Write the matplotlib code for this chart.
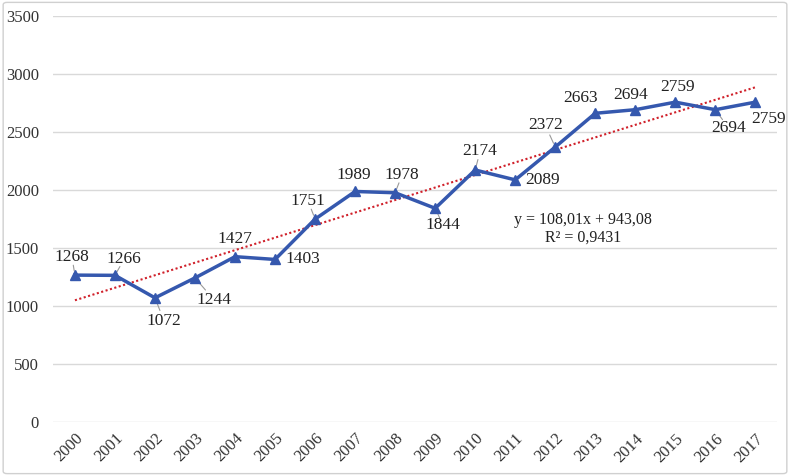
import matplotlib.pyplot as plt
import matplotlib.patches as patches

years = ['2000', '2001', '2002', '2003', '2004', '2005', '2006', '2007', '2008',
         '2009', '2010', '2011', '2012', '2013', '2014', '2015', '2016', '2017']
values = [1268, 1266, 1072, 1244, 1427, 1403, 1751, 1989, 1978,
          1844, 2174, 2089, 2372, 2663, 2694, 2759, 2694, 2759]
trend_slope = 108.01
trend_icept = 943.08
r_squared = '0,9431'

# label offsets in pixels (dx, dy) relative to each point
label_off = [(-3, 18), (9, 16), (9, -23), (19, -22), (0, 18), (28, 0),
             (-7, 18), (-1, 16), (7, 18), (8, -17), (5, 19), (27, 0),
             (-10, 22), (-15, 15), (-5, 15), (2, 15), (13, -18), (13, -17)]
leader = [True, True, True, True, False, False, True, False, True,
          True, True, False, True, False, False, False, True, False]

plt.rcParams['font.family'] = ['Liberation Serif', 'DejaVu Serif']

fig = plt.figure(figsize=(7.9, 4.76), dpi=100)
ax = fig.add_axes([0.067, 0.113, 0.917, 0.853])

x = list(range(len(years)))
ax.plot(x, values, color='#3558AE', lw=2.5, marker='^', markersize=7.5, zorder=3)

trend = [trend_slope * (i + 1) + trend_icept for i in x]
ax.plot(x, trend, color='#D0202A', lw=1.5, ls=(0, (1, 1.2)), zorder=2)

for i, v in enumerate(values):
    dx, dy = label_off[i]
    ax.annotate(str(v), (i, v), xytext=(dx, dy), textcoords='offset pixels',
                ha='center', va='center', fontsize=12.5, color='#222222', zorder=4)
    if leader[i]:
        # short grey leader line from point towards label
        ax.annotate('', (i, v), xytext=(dx * 0.55, dy * 0.55), textcoords='offset pixels',
                    arrowprops=dict(arrowstyle='-', color='#999999', lw=0.8,
                                    shrinkA=0, shrinkB=3), zorder=2)

ax.text(12.7, 1745, f'y = {trend_slope:.2f}x + {trend_icept:.2f}'.replace('.', ','),
        ha='center', va='center', fontsize=11.5, color='#222222')
ax.text(12.7, 1590, f'R² = {r_squared}', ha='center', va='center', fontsize=11.5,
        color='#222222')

ax.set_xlim(-0.55, 17.55)
ax.set_ylim(0, 3500)
ax.set_yticks(range(0, 3501, 500))
ax.set_xticks(x)
ax.set_xticklabels(years, rotation=45, ha='right', rotation_mode='anchor')
ax.tick_params(axis='both', length=0, labelsize=12, colors='#333333')
ax.tick_params(axis='y', pad=10)
ax.tick_params(axis='x', pad=6)
ax.grid(axis='y', color='#D9D9D9', lw=1)
ax.set_axisbelow(True)
for s in ax.spines.values():
    s.set_visible(False)

fig.patches.append(patches.FancyBboxPatch((0.004, 0.005), 0.992, 0.99,
                                          boxstyle='round,pad=0,rounding_size=0.005',
                                          transform=fig.transFigure, fill=False,
                                          edgecolor='#D0D0D0', lw=1))

fig.savefig('out.png', dpi=100)
